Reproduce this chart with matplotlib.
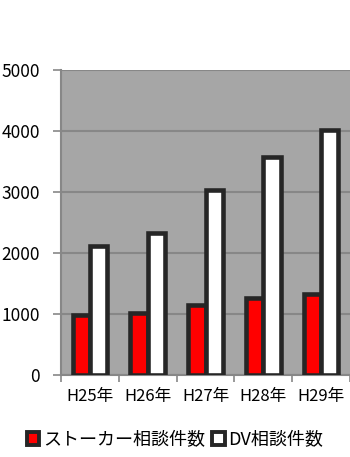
import matplotlib.pyplot as plt
import numpy as np
from matplotlib.patches import Patch

plt.rcParams['font.family'] = ['Noto Sans CJK JP', 'DejaVu Sans']

# 年度ごとの相談件数
years = ['H25年', 'H26年', 'H27年', 'H28年', 'H29年']
stalker = [990, 1010, 1140, 1270, 1320]
dv = [2120, 2330, 3030, 3570, 4020]

edge = '#262626'
bg = '#a6a6a6'
grid = '#878787'

fig = plt.figure(figsize=(3.5, 4.57), dpi=100)
ax = fig.add_axes([61 / 350, 1 - 375 / 457, 1 - 61 / 350, 305 / 457])
ax.set_facecolor(bg)

x = np.arange(len(years))
w = 0.3
ax.bar(x - w / 2, stalker, w, color='#ff0000', edgecolor=edge, linewidth=3.3, zorder=3)
ax.bar(x + w / 2, dv, w, color='white', edgecolor=edge, linewidth=3.3, zorder=3)

ax.set_xlim(-0.5, len(years) - 0.5)
ax.set_ylim(0, 5000)
ax.set_yticks(range(0, 5001, 1000))
ax.yaxis.grid(True, color=grid, linewidth=1.5, zorder=1)
ax.set_axisbelow(True)

# 区切りの目盛りは境界に、ラベルは中央に
ax.set_xticks(np.arange(-0.5, len(years), 1.0))
ax.set_xticklabels([])
ax.set_xticks(x, minor=True)
ax.set_xticklabels(years, minor=True)
ax.tick_params(axis='x', which='major', length=5, width=1.2, color=grid)
ax.tick_params(axis='x', which='minor', length=0, pad=9, labelsize=12)
ax.tick_params(axis='y', length=6, width=1.2, color=grid, pad=9, labelsize=12.5)

for s in ['top', 'right']:
    ax.spines[s].set_visible(False)
for s in ['left', 'bottom']:
    ax.spines[s].set_color(grid)
    ax.spines[s].set_linewidth(1.5)

handles = [Patch(facecolor='#ff0000', edgecolor=edge, linewidth=2.8),
           Patch(facecolor='white', edgecolor=edge, linewidth=2.8)]
fig.legend(handles, ['ストーカー相談件数', 'DV相談件数'], loc='center',
           bbox_to_anchor=(0.5, 1 - 440 / 457), ncol=2, frameon=False,
           fontsize=13, handlelength=0.7, handleheight=0.7,
           handletextpad=0.2, columnspacing=0.4)

fig.savefig('out.png', dpi=100)
